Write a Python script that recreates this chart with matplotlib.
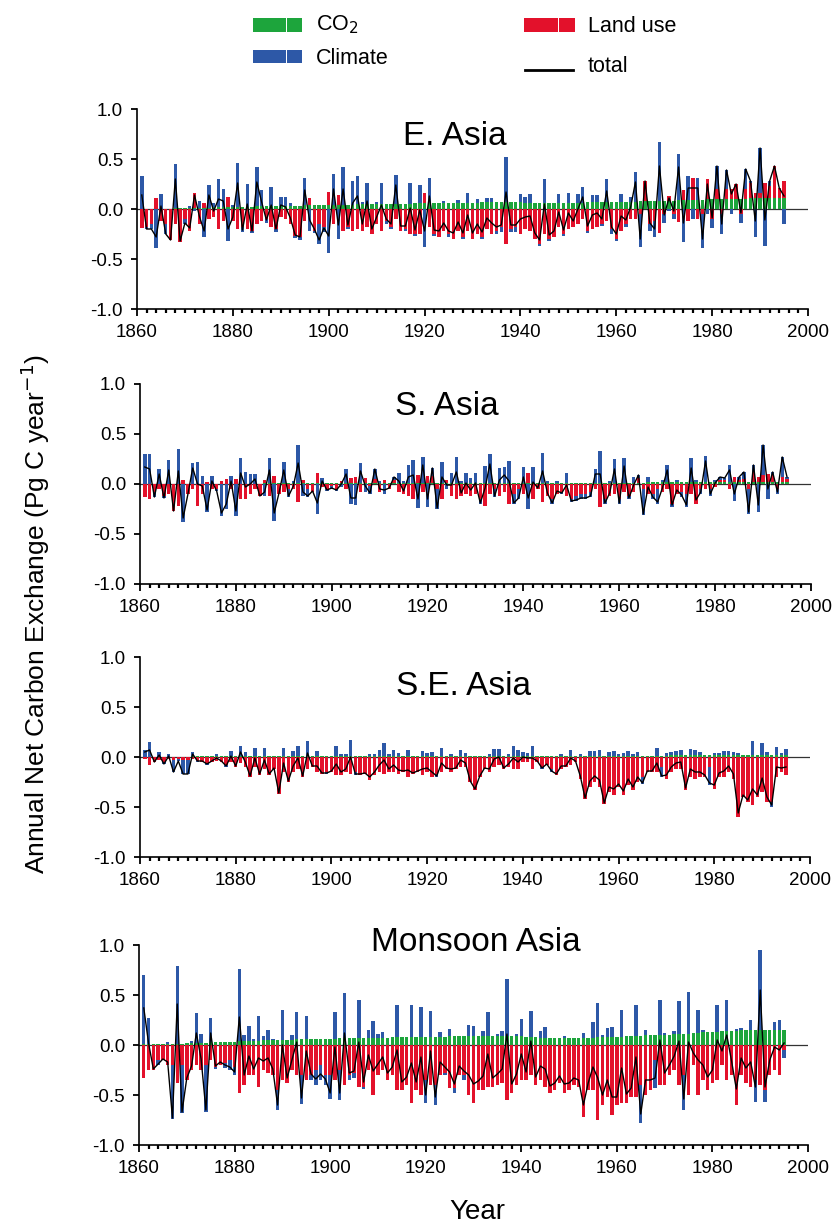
import numpy as np
import matplotlib.pyplot as plt
from matplotlib.patches import Rectangle
from matplotlib.lines import Line2D
from matplotlib.ticker import MultipleLocator

plt.rcParams['font.family'] = ['Liberation Sans', 'DejaVu Sans']

# years of the annual bars
years = np.arange(1861, 1996)

# ---- E. Asia (Pg C / yr) ----
ea_co2 = [0.00, 0.00, 0.00, 0.00, 0.00, 0.00, 0.00, 0.01, 0.01, 0.01,
          0.01, 0.01, 0.01, 0.01, 0.01, 0.02, 0.02, 0.02, 0.02, 0.02,
          0.02, 0.02, 0.02, 0.02, 0.03, 0.03, 0.03, 0.03, 0.03, 0.03,
          0.03, 0.03, 0.03, 0.03, 0.04, 0.04, 0.04, 0.04, 0.04, 0.04,
          0.04, 0.04, 0.04, 0.04, 0.04, 0.05, 0.05, 0.05, 0.05, 0.05,
          0.05, 0.05, 0.05, 0.05, 0.05, 0.05, 0.05, 0.06, 0.06, 0.06,
          0.06, 0.06, 0.06, 0.06, 0.06, 0.06, 0.06, 0.06, 0.06, 0.06,
          0.06, 0.07, 0.07, 0.07, 0.07, 0.07, 0.07, 0.07, 0.07, 0.07,
          0.06, 0.06, 0.06, 0.06, 0.06, 0.06, 0.06, 0.06, 0.06, 0.06,
          0.06, 0.06, 0.06, 0.07, 0.07, 0.07, 0.07, 0.07, 0.07, 0.07,
          0.07, 0.07, 0.07, 0.07, 0.08, 0.08, 0.08, 0.08, 0.08, 0.08,
          0.08, 0.08, 0.09, 0.09, 0.09, 0.09, 0.09, 0.09, 0.10, 0.10,
          0.10, 0.10, 0.10, 0.10, 0.10, 0.10, 0.10, 0.11, 0.11, 0.11,
          0.11, 0.11, 0.11, 0.11, 0.11]
ea_land = [-0.19, -0.18, -0.15, 0.11, -0.12, -0.15, -0.31, -0.15, -0.33, -0.10,
           -0.22, 0.15, -0.15, 0.05, -0.10, -0.08, -0.20, -0.12, 0.10, -0.12,
           -0.20, -0.18, -0.20, -0.22, -0.15, -0.12, -0.10, -0.18, -0.20, -0.08,
           -0.10, -0.15, -0.27, -0.28, -0.12, 0.07, -0.22, -0.15, -0.18, 0.13,
           -0.15, 0.10, -0.22, -0.18, -0.22, -0.20, -0.22, -0.18, -0.25, -0.15,
           -0.22, -0.12, -0.18, -0.10, -0.22, -0.20, -0.25, -0.25, -0.25, 0.10,
           -0.18, -0.25, -0.28, -0.22, -0.25, -0.30, -0.22, -0.28, -0.22, -0.30,
           -0.25, -0.28, -0.20, -0.25, -0.22, -0.18, -0.35, -0.20, -0.18, -0.25,
           -0.20, -0.22, -0.30, -0.35, -0.25, -0.30, -0.28, -0.18, -0.25, -0.20,
           -0.18, -0.15, -0.10, -0.22, -0.20, -0.18, -0.15, -0.12, -0.20, -0.30,
           -0.22, -0.15, -0.10, -0.10, -0.05, 0.20, -0.15, -0.12, -0.24, -0.05,
           0.05, -0.05, -0.13, 0.10, -0.12, 0.22, -0.10, -0.05, 0.20, -0.10,
           0.10, -0.05, 0.10, 0.10, 0.15, -0.05, 0.10, 0.15, 0.05, 0.05,
           0.15, 0.12, 0.32, 0.10, 0.17]
ea_clim = [0.33, -0.02, -0.05, -0.39, 0.15, -0.10, 0.00, 0.44, 0.00, -0.05,
           0.02, -0.02, 0.07, -0.28, 0.23, 0.04, 0.28, 0.18, -0.32, 0.02,
           0.44, -0.05, 0.23, -0.02, 0.39, 0.16, -0.04, 0.19, -0.03, 0.09,
           0.09, 0.03, -0.02, -0.03, 0.27, -0.22, -0.02, -0.20, -0.05, -0.44,
           0.31, -0.30, 0.38, -0.02, 0.24, 0.28, 0.02, 0.21, 0.00, 0.02,
           0.21, -0.03, -0.02, 0.29, 0.00, -0.02, 0.21, -0.02, 0.18, -0.38,
           0.25, -0.02, 0.00, 0.02, -0.03, 0.00, 0.03, -0.02, 0.10, 0.00,
           0.04, -0.02, 0.04, 0.04, -0.03, -0.05, 0.45, -0.03, -0.05, 0.08,
           0.06, 0.09, 0.00, -0.02, 0.24, -0.02, 0.00, 0.09, -0.02, 0.10,
           0.00, 0.09, 0.16, -0.02, 0.07, 0.07, -0.02, 0.23, -0.05, -0.02,
           0.08, -0.03, 0.05, 0.30, -0.33, 0.00, -0.07, -0.16, 0.59, -0.09,
           -0.02, -0.05, 0.46, -0.33, 0.24, -0.10, 0.22, -0.34, -0.05, -0.09,
           0.23, -0.20, 0.19, -0.05, 0.00, -0.09, 0.20, 0.02, -0.28, 0.45,
           -0.37, 0.05, 0.00, 0.00, -0.15]

# ---- S. Asia ----
sa_co2 = [0.00, 0.00, 0.00, 0.00, 0.00, 0.00, 0.00, 0.00, 0.00, 0.00,
          0.00, 0.00, 0.00, 0.00, 0.00, 0.00, 0.00, 0.00, 0.00, 0.00,
          0.00, 0.00, 0.00, 0.00, 0.00, 0.01, 0.01, 0.01, 0.01, 0.01,
          0.01, 0.01, 0.01, 0.01, 0.01, 0.01, 0.01, 0.01, 0.01, 0.01,
          0.01, 0.01, 0.01, 0.01, 0.01, 0.01, 0.01, 0.01, 0.01, 0.01,
          0.01, 0.01, 0.01, 0.01, 0.01, 0.01, 0.01, 0.01, 0.01, 0.01,
          0.01, 0.01, 0.01, 0.01, 0.01, 0.01, 0.01, 0.01, 0.01, 0.01,
          0.01, 0.01, 0.01, 0.01, 0.01, 0.01, 0.01, 0.01, 0.01, 0.01,
          0.01, 0.01, 0.01, 0.01, 0.01, 0.01, 0.01, 0.01, 0.01, 0.01,
          0.01, 0.01, 0.01, 0.01, 0.01, 0.01, 0.01, 0.01, 0.01, 0.01,
          0.01, 0.01, 0.01, 0.01, 0.01, 0.02, 0.02, 0.02, 0.02, 0.02,
          0.02, 0.02, 0.02, 0.02, 0.02, 0.02, 0.02, 0.02, 0.02, 0.02,
          0.02, 0.02, 0.02, 0.02, 0.02, 0.02, 0.02, 0.02, 0.02, 0.02,
          0.02, 0.02, 0.02, 0.02, 0.02]
sa_land = [-0.13, -0.15, -0.08, -0.05, -0.12, -0.10, -0.27, -0.22, 0.04, -0.10,
           -0.05, -0.22, -0.10, 0.02, -0.05, -0.05, 0.03, 0.05, -0.05, 0.05,
           -0.15, -0.15, -0.10, -0.05, -0.12, 0.03, -0.12, 0.07, -0.10, -0.08,
           -0.05, -0.05, -0.18, 0.03, -0.05, -0.08, 0.10, -0.03, -0.05, -0.02,
           -0.05, 0.02, -0.05, 0.05, 0.06, -0.08, 0.05, -0.02, 0.04, -0.08,
           0.03, -0.05, 0.03, -0.08, -0.10, -0.12, -0.15, 0.08, -0.08, 0.07,
           0.07, -0.05, -0.15, 0.03, -0.12, -0.15, -0.12, -0.10, -0.12, -0.10,
           -0.15, -0.22, -0.10, -0.05, -0.12, -0.08, -0.20, -0.10, -0.05, -0.10,
           0.10, -0.15, -0.05, -0.18, -0.12, -0.15, -0.10, -0.08, -0.12, -0.15,
           -0.12, -0.10, -0.10, -0.08, -0.05, -0.23, -0.15, -0.12, -0.10, -0.15,
           -0.08, -0.12, -0.08, 0.05, -0.05, -0.10, -0.10, -0.05, -0.08, -0.05,
           -0.20, -0.10, -0.08, -0.10, -0.10, -0.20, -0.05, -0.05, -0.05, -0.03,
           0.02, 0.02, -0.05, 0.05, 0.02, 0.03, -0.05, 0.10, 0.05, 0.07,
           0.08, 0.07, -0.05, 0.05, 0.03]
sa_clim = [0.30, 0.30, -0.05, 0.15, -0.02, 0.24, 0.00, 0.35, -0.38, 0.00,
           0.21, 0.22, 0.08, -0.28, 0.08, -0.02, -0.32, -0.25, 0.08, -0.32,
           0.26, 0.12, 0.10, 0.10, 0.00, -0.12, 0.25, -0.37, 0.00, 0.21,
           -0.08, 0.02, 0.38, -0.12, -0.08, 0.00, -0.30, 0.05, -0.02, -0.03,
           -0.02, -0.03, 0.14, -0.20, -0.21, 0.20, -0.08, -0.08, 0.10, 0.02,
           -0.10, 0.00, 0.03, 0.10, 0.02, 0.18, 0.23, -0.24, 0.26, -0.23,
           0.08, -0.20, 0.21, -0.05, 0.10, 0.26, 0.02, 0.10, 0.05, 0.10,
           -0.05, 0.17, 0.29, -0.08, 0.15, 0.16, 0.22, -0.10, -0.10, 0.16,
           -0.25, 0.16, 0.00, 0.30, 0.02, -0.05, 0.02, -0.02, 0.10, -0.03,
           -0.05, -0.05, -0.05, -0.05, 0.14, 0.32, -0.05, 0.02, 0.24, -0.05,
           0.25, -0.03, 0.06, 0.03, -0.26, 0.05, -0.05, -0.15, 0.02, 0.17,
           -0.03, 0.02, -0.05, -0.13, 0.24, 0.02, -0.05, 0.26, -0.07, 0.02,
           0.03, 0.02, 0.17, -0.17, 0.03, 0.07, -0.25, 0.07, -0.28, 0.30,
           -0.15, 0.03, -0.05, 0.20, 0.02]

# ---- S.E. Asia ----
se_co2 = [0.00, 0.00, 0.00, 0.00, 0.00, 0.00, 0.00, 0.00, 0.00, 0.00,
          0.01, 0.01, 0.01, 0.01, 0.01, 0.01, 0.01, 0.01, 0.01, 0.01,
          0.01, 0.01, 0.01, 0.01, 0.01, 0.01, 0.01, 0.01, 0.01, 0.01,
          0.01, 0.01, 0.01, 0.01, 0.01, 0.01, 0.01, 0.01, 0.01, 0.01,
          0.01, 0.01, 0.01, 0.01, 0.01, 0.01, 0.01, 0.01, 0.01, 0.01,
          0.01, 0.01, 0.01, 0.01, 0.01, 0.01, 0.01, 0.01, 0.01, 0.01,
          0.01, 0.01, 0.01, 0.01, 0.01, 0.01, 0.01, 0.01, 0.01, 0.01,
          0.01, 0.01, 0.01, 0.01, 0.01, 0.01, 0.01, 0.01, 0.01, 0.01,
          0.01, 0.01, 0.01, 0.01, 0.01, 0.01, 0.01, 0.01, 0.01, 0.01,
          0.01, 0.01, 0.01, 0.01, 0.01, 0.01, 0.01, 0.01, 0.01, 0.01,
          0.01, 0.01, 0.01, 0.01, 0.01, 0.01, 0.01, 0.01, 0.01, 0.01,
          0.02, 0.02, 0.02, 0.02, 0.02, 0.02, 0.02, 0.02, 0.02, 0.02,
          0.02, 0.02, 0.02, 0.02, 0.02, 0.02, 0.02, 0.02, 0.02, 0.02,
          0.02, 0.02, 0.02, 0.02, 0.02]
se_land = [-0.02, -0.08, -0.05, -0.03, -0.05, -0.02, -0.03, -0.02, -0.03, -0.03,
           -0.02, -0.04, -0.05, -0.06, -0.05, -0.04, -0.05, -0.08, -0.05, -0.10,
           -0.06, -0.10, -0.20, -0.10, -0.18, -0.12, -0.18, -0.12, -0.37, -0.15,
           -0.25, -0.15, -0.12, -0.20, -0.12, -0.10, -0.15, -0.17, -0.15, -0.15,
           -0.18, -0.18, -0.15, -0.17, -0.15, -0.18, -0.17, -0.23, -0.18, -0.15,
           -0.17, -0.15, -0.15, -0.17, -0.15, -0.20, -0.17, -0.15, -0.18, -0.15,
           -0.20, -0.17, -0.15, -0.12, -0.15, -0.12, -0.10, -0.10, -0.25, -0.33,
           -0.20, -0.12, -0.15, -0.10, -0.08, -0.12, -0.10, -0.12, -0.12, -0.05,
           -0.05, -0.12, -0.05, -0.10, -0.08, -0.12, -0.18, -0.12, -0.10, -0.08,
           -0.05, -0.22, -0.42, -0.30, -0.25, -0.30, -0.47, -0.35, -0.38, -0.30,
           -0.38, -0.28, -0.33, -0.25, -0.20, -0.15, -0.15, -0.15, -0.10, -0.22,
           -0.15, -0.12, -0.12, -0.33, -0.20, -0.22, -0.20, -0.20, -0.10, -0.32,
           -0.20, -0.20, -0.15, -0.22, -0.60, -0.40, -0.45, -0.48, -0.40, -0.35,
           -0.45, -0.45, -0.20, -0.15, -0.18]
se_clim = [0.07, 0.15, 0.00, 0.05, -0.02, 0.03, -0.12, -0.02, -0.14, -0.14,
           0.04, -0.01, 0.00, -0.02, 0.00, 0.02, 0.00, -0.02, 0.05, 0.00,
           0.10, 0.04, 0.00, 0.08, 0.00, 0.08, 0.00, 0.00, 0.00, 0.08,
           0.00, 0.05, 0.10, 0.00, 0.15, 0.00, 0.05, 0.00, -0.02, 0.00,
           0.10, 0.02, 0.02, 0.16, -0.03, 0.00, 0.00, 0.02, 0.02, 0.06,
           0.13, 0.02, 0.06, 0.03, 0.00, 0.06, 0.00, 0.00, 0.05, 0.03,
           0.04, -0.03, 0.08, 0.00, 0.02, 0.00, 0.06, 0.03, 0.00, 0.00,
           0.00, 0.00, 0.02, 0.07, 0.07, 0.00, 0.02, 0.10, 0.06, 0.04,
           0.03, 0.10, 0.00, -0.02, 0.00, -0.03, 0.00, 0.02, 0.00, 0.06,
           0.00, 0.02, 0.00, 0.05, 0.05, 0.06, 0.00, 0.04, 0.05, 0.02,
           0.03, 0.05, 0.02, 0.04, -0.07, 0.00, 0.00, 0.08, -0.10, 0.03,
           0.03, 0.04, 0.05, 0.00, 0.06, 0.05, 0.03, 0.00, -0.18, 0.02,
           0.02, 0.04, 0.04, 0.03, 0.02, 0.00, 0.00, 0.14, 0.00, 0.12,
           0.03, -0.05, 0.08, 0.02, 0.06]

# ---- Monsoon Asia ----
ma_co2 = [0.01, 0.01, 0.01, 0.01, 0.01, 0.01, 0.01, 0.01, 0.01, 0.02,
          0.02, 0.02, 0.02, 0.02, 0.03, 0.03, 0.03, 0.03, 0.03, 0.03,
          0.04, 0.04, 0.04, 0.04, 0.04, 0.05, 0.05, 0.05, 0.05, 0.05,
          0.05, 0.05, 0.06, 0.06, 0.06, 0.06, 0.06, 0.06, 0.06, 0.06,
          0.06, 0.07, 0.07, 0.07, 0.07, 0.07, 0.07, 0.07, 0.07, 0.07,
          0.07, 0.07, 0.08, 0.08, 0.08, 0.08, 0.08, 0.08, 0.08, 0.08,
          0.08, 0.08, 0.08, 0.08, 0.09, 0.09, 0.09, 0.09, 0.09, 0.09,
          0.09, 0.09, 0.09, 0.09, 0.09, 0.09, 0.09, 0.09, 0.09, 0.09,
          0.08, 0.08, 0.08, 0.07, 0.07, 0.07, 0.07, 0.07, 0.07, 0.07,
          0.07, 0.07, 0.07, 0.07, 0.07, 0.08, 0.08, 0.08, 0.08, 0.08,
          0.08, 0.09, 0.09, 0.09, 0.09, 0.10, 0.10, 0.10, 0.10, 0.10,
          0.10, 0.11, 0.11, 0.11, 0.11, 0.12, 0.12, 0.13, 0.13, 0.13,
          0.13, 0.14, 0.14, 0.14, 0.14, 0.15, 0.15, 0.15, 0.15, 0.15,
          0.15, 0.15, 0.15, 0.15, 0.15]
ma_land = [-0.33, -0.25, -0.25, -0.15, -0.15, -0.20, -0.20, -0.38, -0.20, -0.35,
           -0.25, -0.20, -0.25, -0.20, -0.15, -0.22, -0.20, -0.18, -0.15, -0.22,
           -0.48, -0.40, -0.30, -0.30, -0.42, -0.25, -0.28, -0.30, -0.45, -0.35,
           -0.38, -0.25, -0.30, -0.30, -0.35, -0.30, -0.25, -0.20, -0.30, -0.30,
           -0.35, -0.25, -0.40, -0.30, -0.28, -0.42, -0.42, -0.25, -0.50, -0.30,
           -0.25, -0.35, -0.30, -0.45, -0.45, -0.40, -0.58, -0.45, -0.50, -0.35,
           -0.40, -0.40, -0.30, -0.28, -0.43, -0.43, -0.30, -0.30, -0.50, -0.58,
           -0.45, -0.45, -0.42, -0.42, -0.40, -0.38, -0.55, -0.48, -0.40, -0.35,
           -0.35, -0.30, -0.40, -0.35, -0.42, -0.48, -0.45, -0.38, -0.48, -0.45,
           -0.40, -0.42, -0.72, -0.45, -0.45, -0.75, -0.60, -0.52, -0.70, -0.60,
           -0.58, -0.58, -0.52, -0.52, -0.40, -0.50, -0.45, -0.15, -0.40, -0.40,
           -0.30, -0.25, -0.40, -0.30, -0.50, -0.20, -0.50, -0.35, -0.45, -0.38,
           -0.35, -0.20, -0.35, -0.30, -0.60, -0.30, -0.38, -0.42, -0.35, -0.40,
           -0.45, -0.30, -0.25, -0.30, -0.05]
ma_clim = [0.69, 0.26, 0.00, -0.05, 0.00, 0.02, -0.54, 0.78, -0.48, 0.00,
           0.02, 0.30, 0.09, -0.47, 0.24, -0.02, 0.00, -0.05, -0.10, -0.08,
           0.72, 0.06, 0.15, 0.02, 0.25, 0.04, 0.10, 0.01, -0.20, 0.30,
           0.00, 0.05, 0.27, -0.29, 0.23, -0.05, -0.15, -0.15, -0.10, -0.24,
           0.27, -0.30, 0.45, -0.05, -0.05, 0.38, -0.02, 0.08, 0.17, 0.04,
           0.06, 0.00, 0.00, 0.32, 0.00, 0.00, 0.32, 0.00, 0.30, -0.23,
           0.26, -0.20, 0.05, -0.02, 0.07, -0.05, 0.00, -0.05, 0.11, 0.10,
           0.00, 0.05, 0.24, 0.00, 0.02, 0.05, 0.57, 0.00, 0.02, 0.17,
           0.00, 0.26, 0.00, 0.07, 0.11, 0.00, 0.00, 0.00, 0.02, 0.00,
           0.00, 0.00, 0.05, 0.00, 0.16, 0.34, 0.02, 0.09, 0.10, 0.00,
           0.27, 0.00, 0.00, 0.31, -0.38, 0.05, 0.00, -0.28, 0.35, 0.02,
           0.00, 0.03, 0.33, -0.35, 0.42, 0.00, 0.23, 0.02, 0.00, 0.00,
           0.27, 0.00, 0.31, 0.00, 0.02, 0.02, 0.00, 0.10, -0.22, 0.80,
           -0.12, 0.00, 0.08, 0.10, -0.08]

regions = ["E. Asia", "S. Asia", "S.E. Asia", "Monsoon Asia"]
series = [(ea_co2, ea_land, ea_clim), (sa_co2, sa_land, sa_clim),
          (se_co2, se_land, se_clim), (ma_co2, ma_land, ma_clim)]

GREEN = '#1da53c'
BLUE = '#2d58a7'
RED = '#e3112b'

W, H = 835, 1225
fig = plt.figure(figsize=(W / 100, H / 100), dpi=100)

def fx(px):
    return px / W

def fy(py):
    return 1 - py / H

# axes boxes in pixels: left, top, right, bottom
boxes = [(137, 109, 808, 309), (140, 384, 811, 584),
         (140, 657, 810, 857), (139, 945, 808, 1145)]
title_xy = [(455, 145), (447, 415), (463, 695), (476, 951)]

for (l, t, r, b), name, (co2, land, clim), (tx, ty) in zip(boxes, regions, series, title_xy):
    ax = fig.add_axes([fx(l), fy(b), (r - l) / W, (b - t) / H])
    pos_base = np.zeros(len(years))
    neg_base = np.zeros(len(years))
    # stacked columns: positive and negative parts stack separately
    for vals, c in zip((co2, land, clim), (GREEN, RED, BLUE)):
        v = np.asarray(vals, dtype=float)
        pos = np.where(v > 0, v, 0)
        neg = np.where(v < 0, v, 0)
        ax.bar(years, pos, bottom=pos_base, width=0.72, color=c, linewidth=0, zorder=2)
        ax.bar(years, neg, bottom=neg_base, width=0.72, color=c, linewidth=0, zorder=2)
        pos_base += pos
        neg_base += neg
    total = np.asarray(co2) + np.asarray(land) + np.asarray(clim)
    ax.axhline(0, color='#333333', lw=0.9, zorder=1)
    ax.plot(years, total, color='black', lw=1.0, zorder=3)

    ax.set_xlim(1860, 2000)
    ax.set_ylim(-1, 1)
    for s in ('top', 'right'):
        ax.spines[s].set_visible(False)
    for s in ('left', 'bottom'):
        ax.spines[s].set_linewidth(1.2)
    ax.set_yticks([-1, -0.5, 0, 0.5, 1])
    ax.set_yticklabels(['-1.0', '-0.5', '0.0', '0.5', '1.0'])
    ax.xaxis.set_major_locator(MultipleLocator(20))
    ax.xaxis.set_minor_locator(MultipleLocator(2))
    ax.tick_params(axis='both', which='major', labelsize=13.5, length=5, width=1.3)
    ax.tick_params(axis='x', which='major', pad=5.5)
    ax.tick_params(axis='y', which='major', length=4, pad=6)
    ax.tick_params(axis='x', which='minor', length=3, width=1.6)

    fig.text(fx(tx), fy(ty), name, ha='center', va='baseline', fontsize=24)

# legend, drawn by hand like the original
def leg_patch(x0, x1, y0, y1, color):
    split = x0 + (x1 - x0) * 2 / 3
    fig.add_artist(Rectangle((fx(x0), fy(y1)), (split - x0) / W, (y1 - y0) / H,
                             transform=fig.transFigure, color=color, lw=0))
    fig.add_artist(Rectangle((fx(split + 1), fy(y1)), (x1 - split - 1) / W, (y1 - y0) / H,
                             transform=fig.transFigure, color=color, lw=0))

leg_patch(253, 302, 18, 32, GREEN)
leg_patch(253, 302, 50, 63, BLUE)
leg_patch(524, 575, 18, 32, RED)
fig.add_artist(Line2D([fx(525), fx(573)], [fy(70), fy(70)], color='black', lw=2,
                      transform=fig.transFigure))
fig.text(fx(316), fy(30), 'CO$_2$', fontsize=15.5, va='baseline')
fig.text(fx(316), fy(64), 'Climate', fontsize=15.5, va='baseline')
fig.text(fx(588), fy(32), 'Land use', fontsize=15.5, va='baseline')
fig.text(fx(588), fy(72), 'total', fontsize=15.5, va='baseline')

fig.text(fx(35), fy(614), 'Annual Net Carbon Exchange (Pg C year$^{-1}$)',
         rotation=90, ha='center', va='center', fontsize=19)
fig.text(fx(477), fy(1219), 'Year', ha='center', va='baseline', fontsize=20)

fig.savefig('out.png', dpi=100)
